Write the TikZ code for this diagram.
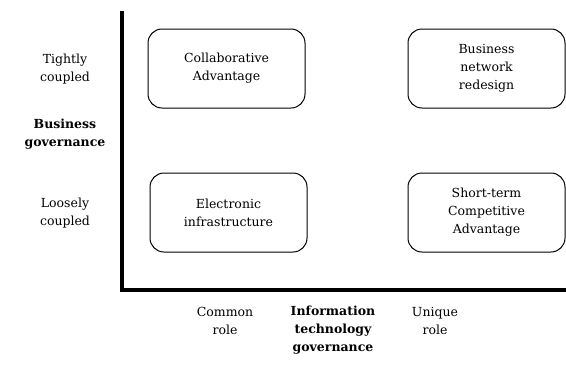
\documentclass[tikz,border=0pt]{standalone}
\usepackage{fontspec}
\setmainfont{DejaVu Serif}
\begin{document}
\begin{tikzpicture}[x=1pt,y=-1pt,
  quad/.style={draw, rounded corners=14pt, line width=1pt, minimum width=157pt, minimum height=79pt, align=center, font=\fontsize{12.5}{18}\selectfont},
  lab/.style={align=center, font=\fontsize{12.5}{18}\selectfont},
  blab/.style={align=center, font=\bfseries\fontsize{12.5}{18}\selectfont},
  axis/.style={line width=4.5pt, line cap=rect}]
\useasboundingbox (0,0) rectangle (566,365);
\coordinate (top) at (122,13);
\coordinate (org) at (122,290);
\coordinate (right) at (566,290);
\draw[axis] (top) -- (org) -- (right);
\node[quad] (ca) at (226.5,68.5) {Collaborative\\Advantage};
\node[quad] (bn) at (486.5,68.5) {Business\\network\\redesign};
\node[quad] (ei) at (228.5,212.5) {Electronic\\infrastructure};
\node[quad] (st) at (486.5,212.5) {Short-term\\Competitive\\Advantage};
\node[lab] (tc) at (65,69) {Tightly\\coupled};
\node[blab] (bg) at (65,134) {Business\\governance};
\node[lab] (lc) at (65,213) {Loosely\\coupled};
\node[lab] (cr) at (225,321) {Common\\role};
\node[blab] (it) at (333,330) {Information\\technology\\governance};
\node[lab] (ur) at (435,321) {Unique\\role};
\end{tikzpicture}
\end{document}
